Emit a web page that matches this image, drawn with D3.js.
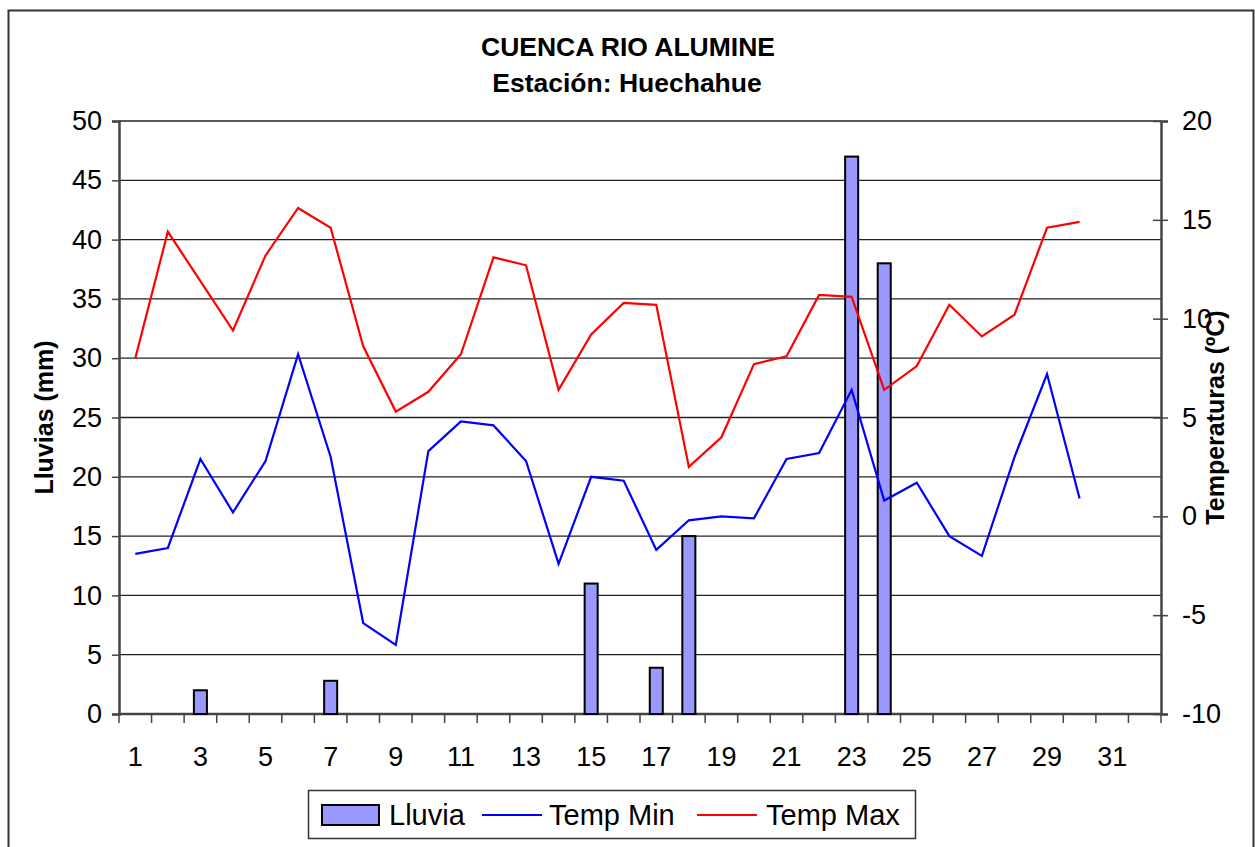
<!DOCTYPE html>
<html lang="es">
<head>
  <meta charset="UTF-8">
  <title>Cuenca Rio Alumine</title>
  <script src="https://cdn.jsdelivr.net/npm/d3@7"></script>
  <style>
  body { margin: 0; background: #fff; }
  svg text { font-family: "Liberation Sans", Arial, sans-serif; fill: #000; }
  .tick-label { font-size: 27px; }
  .title { font-size: 26.5px; font-weight: bold; }
  .axis-title { font-size: 25px; font-weight: bold; }
  .legend text { font-size: 29px; }
  </style>
</head>
<body>
  <svg id="chart" width="1255" height="847"></svg>
  <script>
  // Chart data
  const days = [1, 2, 3, 4, 5, 6, 7, 8, 9, 10, 11, 12, 13, 14, 15, 16,
                17, 18, 19, 20, 21, 22, 23, 24, 25, 26, 27, 28, 29, 30, 31, 32];
  const lluvia = [0, 0, 2, 0, 0, 0, 2.8, 0, 0, 0, 0, 0, 0, 0, 11, 0,
                  3.9, 15, 0, 0, 0, 0, 47, 38, 0, 0, 0, 0, 0, 0];
  const tempMin = [-1.9, -1.6, 2.9, 0.2, 2.8, 8.2, 3.0, -5.4, -6.5, 3.3, 4.8, 4.6, 2.8, -2.4, 2.0,
                   1.8, -1.7, -0.2, 0.0, -0.1, 2.9, 3.2, 6.4, 0.8, 1.7, -1.0, -2.0, 3.0, 7.2, 0.9];
  const tempMax = [8.0, 14.4, 11.9, 9.4, 13.2, 15.6, 14.6, 8.6, 5.3, 6.3, 8.2, 13.1, 12.7, 6.4, 9.2,
                   10.8, 10.7, 2.5, 4.0, 7.7, 8.1, 11.2, 11.1, 6.4, 7.6, 10.7, 9.1, 10.2, 14.6, 14.9];
  const leftTicks = [0, 5, 10, 15, 20, 25, 30, 35, 40, 45, 50];
  const rightTicks = [-10, -5, 0, 5, 10, 15, 20];

  const svg = d3.select('#chart');
  const plot = {left: 119, right: 1161, top: 121, bottom: 714};

  // outer frame
  svg.append('rect')
    .attr('x', 8.5).attr('y', 10.5)
    .attr('width', 1245).attr('height', 860)
    .attr('fill', 'none').attr('stroke', '#333').attr('stroke-width', 2);

  const x = d3.scaleBand().domain(days).range([plot.left, plot.right]);
  const yL = d3.scaleLinear().domain([0, 50]).range([plot.bottom, plot.top]);
  const yR = d3.scaleLinear().domain([-10, 20]).range([plot.bottom, plot.top]);

  // gridlines
  svg.append('g')
    .selectAll('line').data(leftTicks.slice(1))
    .join('line')
      .attr('x1', plot.left).attr('x2', plot.right)
      .attr('y1', d => yL(d)).attr('y2', d => yL(d))
      .attr('stroke', '#222').attr('stroke-width', 1.3);

  // left axis
  const gL = svg.append('g').attr('transform', `translate(${plot.left},0)`)
    .call(d3.axisLeft(yL).tickValues(leftTicks).tickSize(7).tickPadding(10));
  // right axis (plain hyphen for negatives, as in the original)
  const gR = svg.append('g').attr('transform', `translate(${plot.right},0)`)
    .call(d3.axisRight(yR).tickValues(rightTicks).tickFormat(d => String(d)).tickSize(7).tickPadding(14));
  gR.selectAll('.tick line').attr('x1', -8);
  // bottom axis, ticks between categories
  const gB = svg.append('g').attr('transform', `translate(0,${plot.bottom})`)
    .call(d3.axisBottom(x).tickFormat(d => d % 2 === 1 ? d : '').tickSize(0).tickPadding(33));
  gB.selectAll('.tick-sep')
    .data(d3.range(days.length + 1))
    .join('line')
      .attr('x1', i => plot.left + i * x.step()).attr('x2', i => plot.left + i * x.step())
      .attr('y1', 0).attr('y2', 9)
      .attr('stroke', '#444').attr('stroke-width', 1.5);

  [gL, gR, gB].forEach(g => {
    g.select('.domain').attr('stroke', '#444').attr('stroke-width', 2.5);
    g.selectAll('.tick line').attr('stroke', '#444').attr('stroke-width', 1.5);
    g.selectAll('.tick text').attr('class', 'tick-label').attr('font-family', null).attr('font-size', null);
  });
  gB.select('.domain').attr('d', `M${plot.left},0H${plot.right}`);

  // rain bars
  const barW = x.bandwidth() * 0.4;
  svg.append('g')
    .selectAll('rect').data(lluvia.map((v, i) => ({day: days[i], v})).filter(d => d.v > 0))
    .join('rect')
      .attr('x', d => x(d.day) + (x.bandwidth() - barW) / 2)
      .attr('y', d => yL(d.v))
      .attr('width', barW)
      .attr('height', d => yL(0) - yL(d.v))
      .attr('fill', '#9999FF').attr('stroke', '#000').attr('stroke-width', 2);

  // temperature lines
  const line = d3.line()
    .x((d, i) => x(days[i]) + x.bandwidth() / 2)
    .y(d => yR(d));
  svg.append('path').datum(tempMin)
    .attr('d', line).attr('fill', 'none').attr('stroke', '#0000FF').attr('stroke-width', 2.2);
  svg.append('path').datum(tempMax)
    .attr('d', line).attr('fill', 'none').attr('stroke', '#FF0000').attr('stroke-width', 2.2);

  // titles
  svg.append('text').attr('class', 'title')
    .attr('x', 628).attr('y', 56).attr('text-anchor', 'middle')
    .text('CUENCA RIO ALUMINE');
  svg.append('text').attr('class', 'title')
    .attr('x', 627).attr('y', 92).attr('text-anchor', 'middle')
    .text('Estación: Huechahue');
  svg.append('text').attr('class', 'axis-title')
    .attr('transform', `translate(53,${(plot.top + plot.bottom) / 2}) rotate(-90)`)
    .attr('text-anchor', 'middle')
    .text('Lluvias (mm)');
  svg.append('text').attr('class', 'axis-title')
    .attr('transform', `translate(1224,${(plot.top + plot.bottom) / 2}) rotate(-90)`)
    .attr('text-anchor', 'middle')
    .text('Temperaturas (ºC)');

  // legend
  const legend = svg.append('g').attr('class', 'legend');
  legend.append('rect')
    .attr('x', 308.5).attr('y', 790.5).attr('width', 607).attr('height', 48)
    .attr('fill', '#fff').attr('stroke', '#333').attr('stroke-width', 1.5);
  legend.append('rect')
    .attr('x', 322).attr('y', 805).attr('width', 57).attr('height', 20)
    .attr('fill', '#9999FF').attr('stroke', '#000').attr('stroke-width', 2);
  legend.append('text').attr('x', 389).attr('y', 825).text('Lluvia');
  legend.append('line').attr('x1', 482).attr('x2', 542).attr('y1', 815).attr('y2', 815)
    .attr('stroke', '#0000FF').attr('stroke-width', 2.2);
  legend.append('text').attr('x', 549).attr('y', 825).text('Temp Min');
  legend.append('line').attr('x1', 697).attr('x2', 757).attr('y1', 815).attr('y2', 815)
    .attr('stroke', '#FF0000').attr('stroke-width', 2.2);
  legend.append('text').attr('x', 766).attr('y', 825).text('Temp Max');
  </script>
</body>
</html>
